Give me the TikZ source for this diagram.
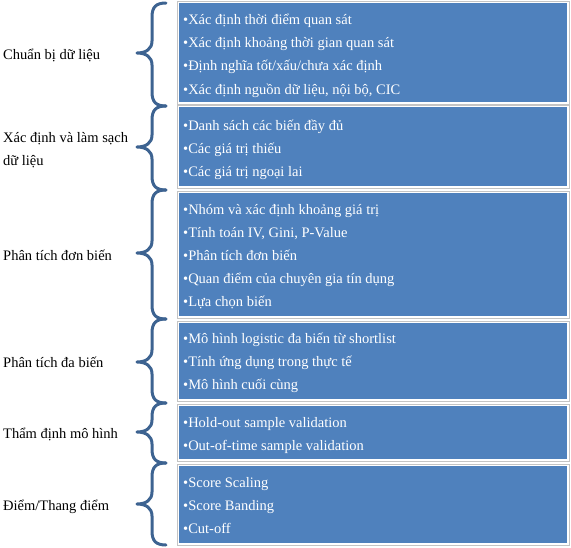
\documentclass[tikz,border=0pt]{standalone}
\usepackage{fontspec}
\setmainfont{Liberation Serif}
\definecolor{boxblue}{HTML}{4F81BD}
\definecolor{bracecol}{HTML}{3D6391}
\definecolor{framegray}{HTML}{C4C4C4}
\newcommand\mybrace[3]{%
  \draw[brace] (166,#1) .. controls (156,#1) and (152,#1+4) .. (152,#1+14)
    -- (152,#2-12) .. controls (152,#2-4) and (146,#2) .. (137,#2)
    .. controls (146,#2) and (152,#2+4) .. (152,#2+12)
    -- (152,#3-14) .. controls (152,#3-4) and (156,#3) .. (166,#3);}
\begin{document}
\begin{tikzpicture}[x=1pt,y=-1pt,
  lbl/.style={anchor=base west,inner sep=0pt,font=\fontsize{14.5}{17}\selectfont},
  itm/.style={lbl,text=white},
  bluebox/.style={fill=boxblue,draw=none},
  frame/.style={draw=framegray,line width=0.6pt},
  brace/.style={draw=bracecol,line width=3pt,line cap=round,line join=round}]
\useasboundingbox (0,0) rectangle (571,547);
% panels
\foreach \t/\b in {3/102,107/186,193/316,323/399,406/459,466/543}{
  \draw[frame] (177,\t-2) rectangle (569,\b+2);
  \fill[boxblue] (179,\t) rectangle (567,\b);
}
% braces
\mybrace{3}{53}{106}
\mybrace{106}{147}{190}
\mybrace{190}{253}{319}
\mybrace{319}{362}{403}
\mybrace{403}{432}{463}
\mybrace{463}{504}{545}
% left labels
\node[lbl] (l1) at (3,59) {Chuẩn bị dữ liệu};
\node[lbl] (l2a) at (3,142) {Xác định và làm sạch};
\node[lbl] (l2b) at (3,165) {dữ liệu};
\node[lbl] (l3) at (3,260) {Phân tích đơn biến};
\node[lbl] (l4) at (3,367) {Phân tích đa biến};
\node[lbl] (l5) at (3,438) {Thẩm định mô hình};
\node[lbl] (l6) at (3,510) {Điểm/Thang điểm};
% items
\node[itm] (a1) at (183,24) {•Xác định thời điểm quan sát};
\node[itm] (a2) at (183,47.3) {•Xác định khoảng thời gian quan sát};
\node[itm] (a3) at (183,70.6) {•Định nghĩa tốt/xấu/chưa xác định};
\node[itm] (a4) at (183,94) {•Xác định nguồn dữ liệu, nội bộ, CIC};
\node[itm] (b1) at (183,130) {•Danh sách các biến đầy đủ};
\node[itm] (b2) at (183,153) {•Các giá trị thiếu};
\node[itm] (b3) at (183,176.5) {•Các giá trị ngoại lai};
\node[itm] (c1) at (183,214) {•Nhóm và xác định khoảng giá trị};
\node[itm] (c2) at (183,237) {•Tính toán IV, Gini, P-Value};
\node[itm] (c3) at (183,260) {•Phân tích đơn biến};
\node[itm] (c4) at (183,283) {•Quan điểm của chuyên gia tín dụng};
\node[itm] (c5) at (183,306) {•Lựa chọn biến};
\node[itm] (d1) at (183,343) {•Mô hình logistic đa biến từ shortlist};
\node[itm] (d2) at (183,366) {•Tính ứng dụng trong thực tế};
\node[itm] (d3) at (183,389) {•Mô hình cuối cùng};
\node[itm] (e1) at (183,427) {•Hold-out sample validation};
\node[itm] (e2) at (183,450) {•Out-of-time sample validation};
\node[itm] (f1) at (183,487) {•Score Scaling};
\node[itm] (f2) at (183,510) {•Score Banding};
\node[itm] (f3) at (183,533) {•Cut-off};
\end{tikzpicture}
\end{document}
